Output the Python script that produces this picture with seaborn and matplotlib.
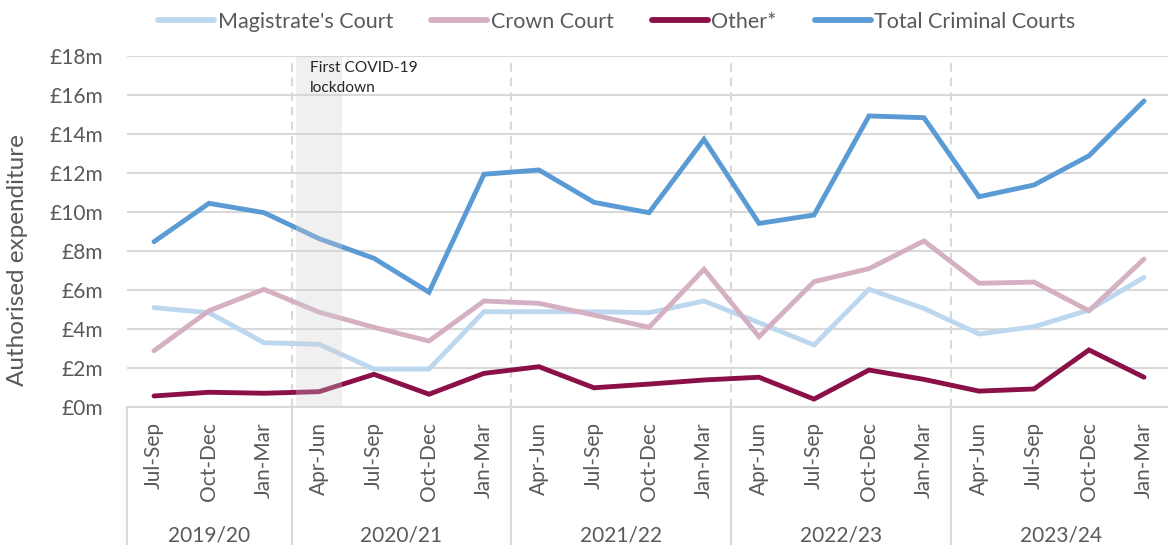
import matplotlib
matplotlib.use("Agg")
import matplotlib.pyplot as plt
import matplotlib.transforms as mtransforms
import seaborn as sns
import pandas as pd
import numpy as np

# ---- data ----
quarters = ["Jul-Sep", "Oct-Dec", "Jan-Mar",
            "Apr-Jun", "Jul-Sep", "Oct-Dec", "Jan-Mar",
            "Apr-Jun", "Jul-Sep", "Oct-Dec", "Jan-Mar",
            "Apr-Jun", "Jul-Sep", "Oct-Dec", "Jan-Mar",
            "Apr-Jun", "Jul-Sep", "Oct-Dec", "Jan-Mar"]
years = ["2019/20", "2020/21", "2021/22", "2022/23", "2023/24"]
year_sizes = [3, 4, 4, 4, 4]

magistrates = [5.08, 4.82, 3.28, 3.20, 1.93, 1.93, 4.87, 4.87, 4.87, 4.82, 5.42,
               4.31, 3.16, 6.02, 5.04, 3.73, 4.10, 4.96, 6.63]
crown = [2.87, 4.92, 6.02, 4.85, 4.07, 3.37, 5.42, 5.30, 4.70, 4.07, 7.05,
         3.59, 6.41, 7.08, 8.50, 6.33, 6.39, 4.92, 7.57]
other = [0.55, 0.74, 0.69, 0.77, 1.66, 0.64, 1.71, 2.05, 0.97, 1.16, 1.37,
         1.51, 0.39, 1.88, 1.40, 0.80, 0.91, 2.91, 1.51]
total = [8.46, 10.43, 9.95, 8.62, 7.61, 5.87, 11.92, 12.14, 10.48, 9.95, 13.71,
         9.40, 9.83, 14.91, 14.82, 10.77, 11.37, 12.87, 15.68]

series_names = ["Magistrate's Court", "Crown Court", "Other*", "Total Criminal Courts"]
series_colors = ["#BDD7EE", "#D5AFC2", "#8B1047", "#5B9BD5"]
y_ticks = [0, 2, 4, 6, 8, 10, 12, 14, 16, 18]
y_tick_labels = ["£0m", "£2m", "£4m", "£6m", "£8m", "£10m", "£12m", "£14m", "£16m", "£18m"]
y_title = "Authorised expenditure"
lockdown_label = "First COVID-19\nlockdown"
lockdown_index = 3

frames = []
for name, vals in zip(series_names, [magistrates, crown, other, total]):
    frames.append(pd.DataFrame({"idx": np.arange(len(vals)), "value": vals, "series": name}))
df = pd.concat(frames, ignore_index=True)

# ---- style ----
sns.set_style("white")
plt.rcParams["font.family"] = ["Lato", "DejaVu Sans"]
text_color = "#595959"
grid_color = "#D9D9D9"

W, H = 1168, 545
fig = plt.figure(figsize=(W / 100, H / 100), dpi=100)
ax_left, ax_right = 126.5, 1168
ax_top, ax_bottom = 55.7, 406.7
ax = fig.add_axes([ax_left / W, 1 - ax_bottom / H, (ax_right - ax_left) / W, (ax_bottom - ax_top) / H])

sns.lineplot(data=df, x="idx", y="value", hue="series", hue_order=series_names,
             palette=series_colors, linewidth=3.5, ax=ax, legend=True, zorder=3,
             solid_capstyle="round", solid_joinstyle="miter")

n = len(quarters)
ax.set_xlim(-0.5, -0.5 + (ax_right - ax_left) / 55.0)
ax.set_ylim(0, 18)
ax.set_yticks(y_ticks)
ax.set_yticklabels(y_tick_labels, fontsize=15, color=text_color)
ax.yaxis.grid(True, color=grid_color, linewidth=1.5, zorder=0)
ax.set_axisbelow(True)
ax.tick_params(axis="y", length=0, pad=17)
ax.set_ylabel("")
ax.set_xlabel("")
fig.text(18 / W, 1 - 260 / H, y_title, rotation=90, ha="center", va="center",
         fontsize=17.5, color=text_color)

ax.set_xticks(range(n))
ax.set_xticklabels(quarters, rotation=90, fontsize=15, color=text_color)
ax.tick_params(axis="x", length=0, pad=11)

for s in ["left", "right", "top"]:
    ax.spines[s].set_visible(False)
ax.spines["bottom"].set_color(grid_color)
ax.spines["bottom"].set_linewidth(1.5)

# year boundaries
trans = mtransforms.blended_transform_factory(ax.transData, ax.transAxes)
bounds = np.cumsum([0] + year_sizes) - 0.5
ybot = -(H - ax_bottom) / (ax_bottom - ax_top)
for b in bounds[:-1]:
    ax.plot([b, b], [0, ybot], transform=trans, color=grid_color, lw=1.5, clip_on=False)
for b in bounds[1:-1]:
    ax.axvline(b, color=grid_color, lw=1.5, ls=(0, (4, 3)), zorder=1)
year_y = -(535 - ax_bottom) / (ax_bottom - ax_top)
for i, yr in enumerate(years):
    cx = (bounds[i] + bounds[i + 1]) / 2
    ax.text(cx, year_y, yr, transform=trans, ha="center", va="center",
            fontsize=15, color=text_color)

# lockdown shading
ax.axvspan(lockdown_index - 0.42, lockdown_index + 0.42, color="#D0D0D0", alpha=0.3,
           zorder=4, lw=0)
ax.text(lockdown_index - 0.17, 17.75, lockdown_label, ha="left", va="top",
        fontsize=11.2, color="#262626", linespacing=1.6, zorder=5)

# legend
handles, labels = ax.get_legend_handles_labels()
ax.get_legend().remove()
for h in handles:
    h.set_linewidth(4.2)
fig.legend(handles, labels, loc="center", bbox_to_anchor=(617 / W, 1 - 22 / H),
           ncol=4, frameon=False, fontsize=15.5, handlelength=2.6, handletextpad=0.18,
           columnspacing=1.75, labelcolor=text_color)

fig.savefig("out.png", dpi=100)
